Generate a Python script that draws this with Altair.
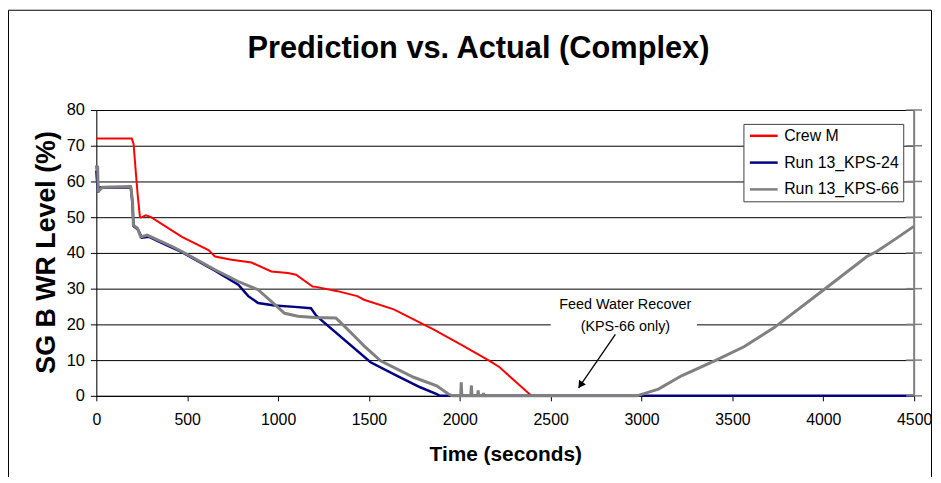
import altair as alt
import pandas as pd

# ---- data ----
series_names = ["Crew M", "Run 13_KPS-24", "Run 13_KPS-66"]
series_colors = ["#FF0000", "#000080", "#808080"]

crew_t = [0, 195, 205, 215, 228, 240, 246, 271, 299, 471, 617, 653, 744, 854, 963, 1054, 1099,
          1190, 1209, 1327, 1436, 1473, 1637, 1800, 1855, 2019, 2164, 2219, 2383, 2395]
crew_v = [72, 72, 70.5, 64, 56, 50, 49.9, 50.5, 50.1, 44.5, 40.8, 39, 38.1, 37.3, 34.8, 34.4, 33.9,
          30.6, 30.5, 29.3, 27.9, 26.9, 24.2, 20, 18.6, 14, 9.8, 8, 0.5, 0]

kps24_t = [0, 4, 10, 20, 190, 198, 205, 230, 250, 290, 371, 471, 653, 781, 836, 890, 981, 1091,
           1181, 1209, 1254, 1509, 1655, 1782, 1873, 1890, 4500]
kps24_v = [63, 60, 57, 58.3, 58.4, 54, 47.5, 46.5, 44.3, 44.5, 42.5, 40.2, 35, 31.1, 27.9, 26, 25.3, 24.9,
           24.5, 22.5, 20.5, 9.4, 5.6, 2.4, 0.5, 0, 0]

kps66_t = [0, 3, 7, 10, 16, 34, 189, 199, 204, 226, 244, 280, 417, 471, 653, 781, 890, 981,
           1036, 1109, 1200, 1318, 1345, 1418, 1473, 1564, 1746, 1873, 1937, 1960, 2005, 2008,
           2011, 2060, 2064, 2067, 2098, 2101, 2104, 2128, 2130, 2132, 2974, 3093, 3220, 3402,
           3566, 3730, 3766, 4003, 4240, 4294, 4400, 4500]
kps66_v = [64.5, 63, 64.4, 57.5, 57.5, 58.4, 58.6, 54.7, 47.8, 46.9, 44.5, 45, 41.8, 40.4, 35.3, 32, 29.7, 25.6,
           23.1, 22.3, 21.9, 21.8, 20.5, 16.8, 14, 9.8, 5.2, 2.8, 0.5, 0, 0, 3.8,
           0, 0, 2.9, 0, 0, 1.5, 0, 0, 0.8, 0, 0, 1.9, 5.6, 9.8,
           13.8, 19.1, 20.5, 29.7, 39, 40.4, 44, 47.5]

x_ticks = list(range(0, 4501, 500))
y_ticks = list(range(0, 81, 10))

title_text = "Prediction vs. Actual (Complex)"
annot_lines = ["Feed Water Recover", "(KPS-66 only)"]
annot_t = [2911, 2911]
annot_v = [25.4, 19.2]
annot_box = {"t": [2500], "t2": [3305], "v": [18], "v2": [28]}
arrow = {"t": [2856], "v": [17.2], "t2": [2654], "v2": [2.2]}
arrow_head = {"t": [2664], "v": [3.0]}

FONT = "Liberation Sans"

# ---- frames ----
def frame(name, t, v):
    return pd.DataFrame({"t": t, "v": v, "series": name})

df_crew = frame(series_names[0], crew_t, crew_v)
df_24 = frame(series_names[1], kps24_t, kps24_v)
df_66 = frame(series_names[2], kps66_t, kps66_v)

xscale = alt.Scale(domain=[0, 4500], nice=False, zero=False)
yscale = alt.Scale(domain=[0, 80], nice=False)

x_axis = alt.Axis(values=x_ticks, format="d", grid=False, tickSize=5, tickColor="black", domainColor="black",
                  labelFontSize=16, labelFont=FONT, labelColor="black", labelPadding=11, labelFlush=False,
                  title="Time (seconds)", titleFont=FONT, titleFontSize=21, titleFontWeight="bold",
                  titleColor="black", titleX=412, titleY=59, titleBaseline="middle", titleAlign="center")
y_axis = alt.Axis(values=y_ticks, grid=True, gridColor="black", gridWidth=1, tickSize=6,
                  tickColor="black", domainColor="black", labelFontSize=16.5, labelFont=FONT,
                  labelColor="black", labelPadding=6,
                  title="SG B WR Level (%)", titleFont=FONT, titleFontSize=27, titleFontWeight="bold",
                  titleColor="black", titleX=-50, titleY=143, titleAngle=-90, titleBaseline="middle",
                  titleAlign="center")

X = lambda f="t:Q": alt.X(f, scale=xscale, axis=x_axis)
Y = lambda f="v:Q": alt.Y(f, scale=yscale, axis=y_axis)

color = alt.Color("series:N", scale=alt.Scale(domain=series_names, range=series_colors),
                  legend=alt.Legend(title=None, orient="none", legendX=652, legendY=14,
                                    symbolType="M-0.85,0H3.46", symbolSize=169, symbolStrokeWidth=2.5,
                                    labelOffset=21, padding=4, rowPadding=11, strokeColor="#404040",
                                    fillColor="white", labelFont=FONT, labelFontSize=16,
                                    labelColor="black", labelLimit=300))

def series_layer(df, width):
    return alt.Chart(df).mark_line(strokeWidth=width).encode(x=X(), y=Y(), color=color)

l_crew = series_layer(df_crew, 2)
l_24 = series_layer(df_24, 2.5)
l_66 = series_layer(df_66, 3)

# right-side gray axis
right_line = alt.Chart(pd.DataFrame({"a": [0]})).mark_rule(color="#808080", strokeWidth=2).encode(
    x=alt.value(824), y=alt.value(0), y2=alt.value(288))
right_ticks = alt.Chart(pd.DataFrame({"v": y_ticks})).mark_rule(color="#808080", strokeWidth=1.5).encode(
    y=Y(), x=alt.value(816), x2=alt.value(832))

# annotation
box = alt.Chart(pd.DataFrame(annot_box)).mark_rect(fill="white").encode(
    x=X(), x2="t2:Q", y=Y(), y2="v2:Q")
txt = alt.Chart(pd.DataFrame({"t": annot_t, "v": annot_v, "label": annot_lines})).mark_text(
    font=FONT, fontSize=14.5, color="black", align="center", baseline="middle").encode(
    x=X(), y=Y(), text="label:N")
arr = alt.Chart(pd.DataFrame(arrow)).mark_rule(color="black", strokeWidth=1.3).encode(
    x=X(), x2="t2:Q", y=Y(), y2="v2:Q")
head = alt.Chart(pd.DataFrame(arrow_head)).mark_point(shape="triangle-down", angle=34.4, filled=True,
                                                      color="black", opacity=1, size=70).encode(
    x=X(), y=Y())

# chart title as text
title = alt.Chart(pd.DataFrame({"label": [title_text]})).mark_text(
    font=FONT, fontSize=31, fontWeight="bold", color="black", align="center", baseline="middle").encode(
    x=alt.value(385), y=alt.value(-61), text="label:N")

# outer chart-area frame
frame_left = alt.Chart(pd.DataFrame({"a": [0]})).mark_rule(color="black", strokeWidth=1).encode(
    x=alt.value(-88.5), y=alt.value(-100.5), y2=alt.value(400))
frame_top = alt.Chart(pd.DataFrame({"a": [0]})).mark_rule(color="black", strokeWidth=1).encode(
    x=alt.value(-88.5), x2=alt.value(841.5), y=alt.value(-100.5))
frame_right = alt.Chart(pd.DataFrame({"a": [0]})).mark_rule(color="black", strokeWidth=1).encode(
    x=alt.value(841.5), y=alt.value(-100.5), y2=alt.value(400))

chart = alt.layer(
    box, l_crew, l_24, l_66, right_line, right_ticks, txt, arr, head, title,
    frame_left, frame_top, frame_right
).properties(
    width=824, height=288,
    autosize=alt.AutoSizeParams(type="none"),
    padding={"left": 89, "top": 101, "right": 19, "bottom": 80},
).configure_view(stroke=None).configure(background="white")

chart.save("out.html", embed_options={"renderer": "svg", "actions": False})
